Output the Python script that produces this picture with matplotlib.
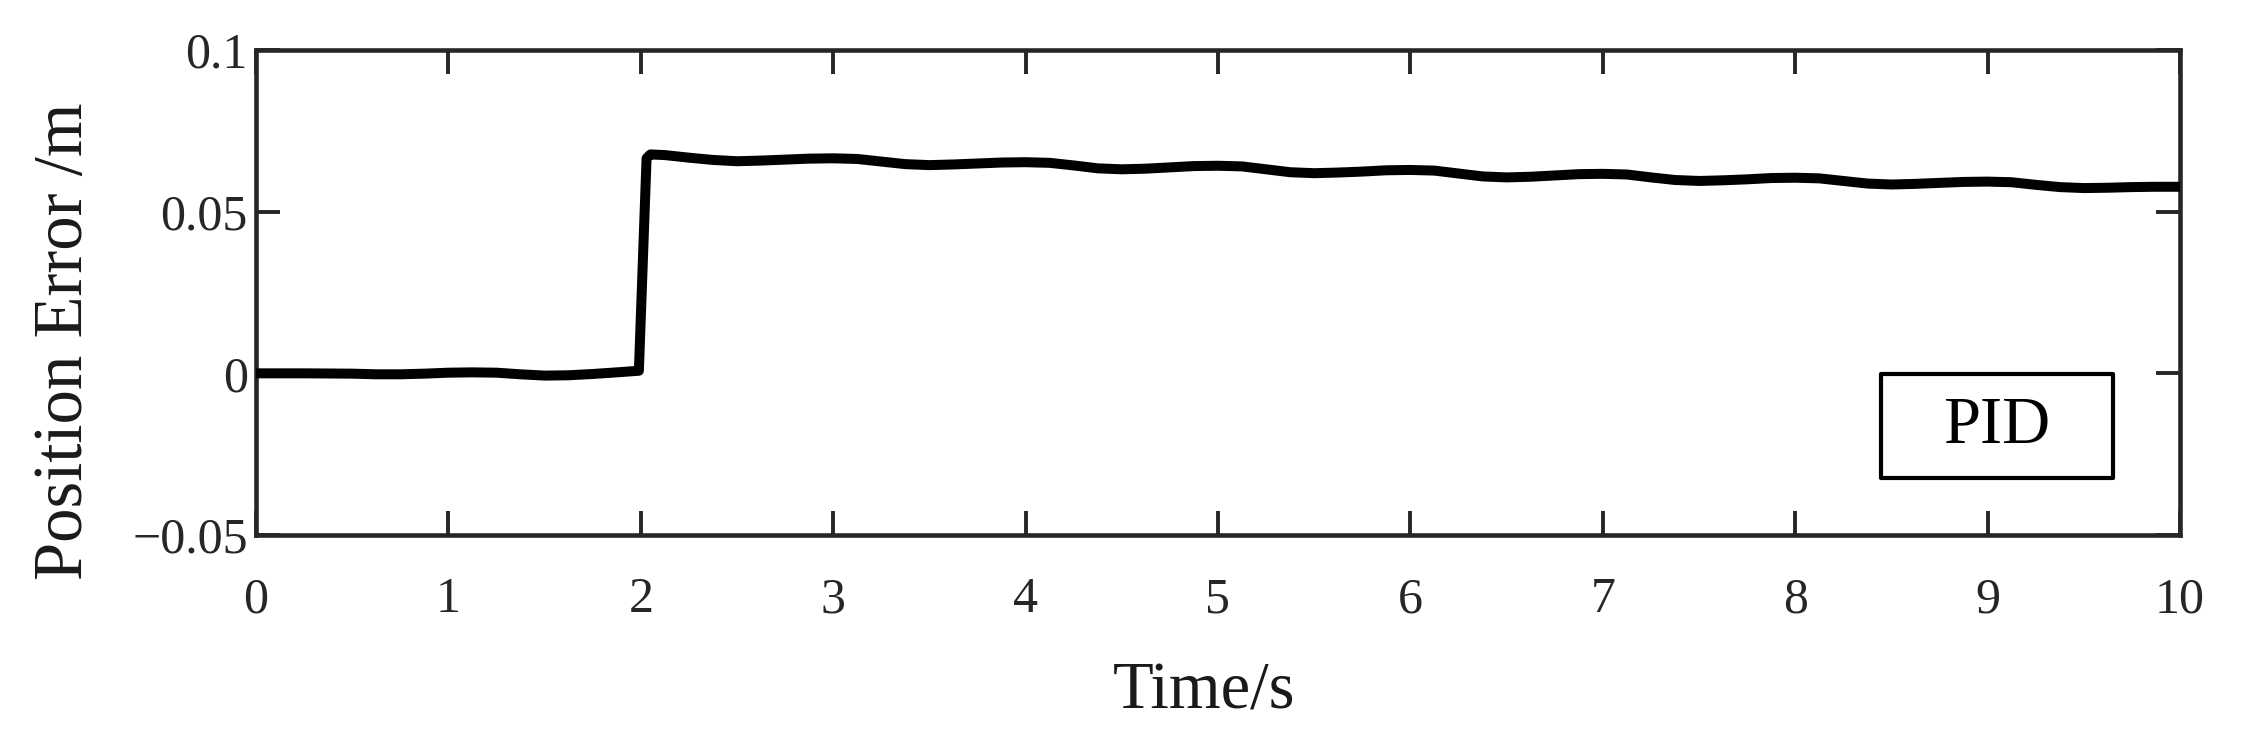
import matplotlib
matplotlib.use("Agg")
import matplotlib.pyplot as plt
from matplotlib.patches import Rectangle

# ---- data ----
time_s = [0.0, 0.25, 0.5, 0.625, 0.75, 0.875, 1.0, 1.125, 1.25, 1.375, 1.5, 1.625, 1.75, 1.875, 1.99,
          2.03, 2.05, 2.125, 2.25, 2.375,
          2.5, 2.625, 2.75, 2.875, 3.0, 3.125, 3.25, 3.375,
          3.5, 3.625, 3.75, 3.875, 4.0, 4.125, 4.25, 4.375,
          4.5, 4.625, 4.75, 4.875, 5.0, 5.125, 5.25, 5.375,
          5.5, 5.625, 5.75, 5.875, 6.0, 6.125, 6.25, 6.375,
          6.5, 6.625, 6.75, 6.875, 7.0, 7.125, 7.25, 7.375,
          7.5, 7.625, 7.75, 7.875, 8.0, 8.125, 8.25, 8.375,
          8.5, 8.625, 8.75, 8.875, 9.0, 9.125, 9.25, 9.375,
          9.5, 9.625, 9.75, 9.875, 10.0]
position_error = [0.0, 0.0, -0.0001, -0.0003, -0.0003, -0.0001, 0.0002, 0.0003, 0.0002, -0.0003, -0.0007, -0.0006, -0.0002, 0.0003, 0.0008,
                  0.0665, 0.0677, 0.0675, 0.0667, 0.0660,
                  0.0656, 0.0658, 0.0661, 0.0664, 0.0665, 0.0663, 0.0655, 0.0647,
                  0.0644, 0.0646, 0.0649, 0.0652, 0.0653, 0.0651, 0.0643, 0.0634,
                  0.0631, 0.0633, 0.0637, 0.0641, 0.0642, 0.0640, 0.0631, 0.0622,
                  0.0619, 0.0621, 0.0624, 0.0628, 0.0629, 0.0627, 0.0618, 0.0609,
                  0.0606, 0.0608, 0.0612, 0.0616, 0.0617, 0.0615, 0.0606, 0.0598,
                  0.0595, 0.0597, 0.0600, 0.0604, 0.0605, 0.0603, 0.0595, 0.0587,
                  0.0584, 0.0586, 0.0589, 0.0592, 0.0593, 0.0591, 0.0583, 0.0576,
                  0.0573, 0.0574, 0.0576, 0.0577, 0.0577]
x_ticks = [0, 1, 2, 3, 4, 5, 6, 7, 8, 9, 10]
x_tick_labels = ["0", "1", "2", "3", "4", "5", "6", "7", "8", "9", "10"]
y_ticks = [-0.05, 0.0, 0.05, 0.1]
y_tick_labels = ["\u22120.05", "0", "0.05", "0.1"]
series_name = "PID"
x_label = "Time/s"
y_label = "Position Error /m"

plt.rcParams['font.family'] = ['Liberation Serif', 'DejaVu Serif']

TOP, BOT, LEFT, RIGHT = 50, 535, 256, 2180
AW, AH = RIGHT - LEFT, BOT - TOP

fig = plt.figure(figsize=(22.55, 7.46), dpi=100)
ax = fig.add_axes([LEFT / 2255, 1 - BOT / 746, AW / 2255, AH / 746])

ax.plot(time_s, position_error, color='black', lw=7.2, solid_joinstyle='round',
        solid_capstyle='round', zorder=3)

ax.set_xlim(0, 10)
ax.set_ylim(-0.05, 0.1)
ax.set_xticks(x_ticks)
ax.set_xticklabels(x_tick_labels)
ax.set_yticks(y_ticks)
ax.set_yticklabels(y_tick_labels)

spine_color = '#262626'
for s in ax.spines.values():
    s.set_linewidth(3.3)
    s.set_color(spine_color)

ax.tick_params(axis='both', which='major', direction='in', length=17, width=2.8,
               color=spine_color, labelcolor=spine_color, labelsize=36,
               top=True, right=True)
ax.tick_params(axis='x', pad=30)
ax.tick_params(axis='y', pad=6)

ax.set_xlabel(x_label, fontsize=48, color='#1a1a1a')
ax.set_ylabel(y_label, fontsize=49.5, color='#1a1a1a')
ax.xaxis.label.set_va('center')
ax.yaxis.label.set_va('center')
ax.xaxis.set_label_coords(0.493, (BOT - 692) / AH)
ax.yaxis.set_label_coords((65 - LEFT) / AW, (BOT - 341) / AH)

# legend box
bx0 = (1881 - LEFT) / AW
bx1 = (2113 - LEFT) / AW
by0 = (BOT - 478) / AH
by1 = (BOT - 374) / AH
ax.add_patch(Rectangle((bx0, by0), bx1 - bx0, by1 - by0, transform=ax.transAxes,
                       facecolor='white', edgecolor='black', lw=3.0, zorder=4,
                       joinstyle='round'))
ax.text((bx0 + bx1) / 2, (by0 + by1) / 2, series_name, transform=ax.transAxes,
        ha='center', va='center', fontsize=48, color='black', zorder=5)

fig.savefig("out.png", dpi=100, facecolor='white')
